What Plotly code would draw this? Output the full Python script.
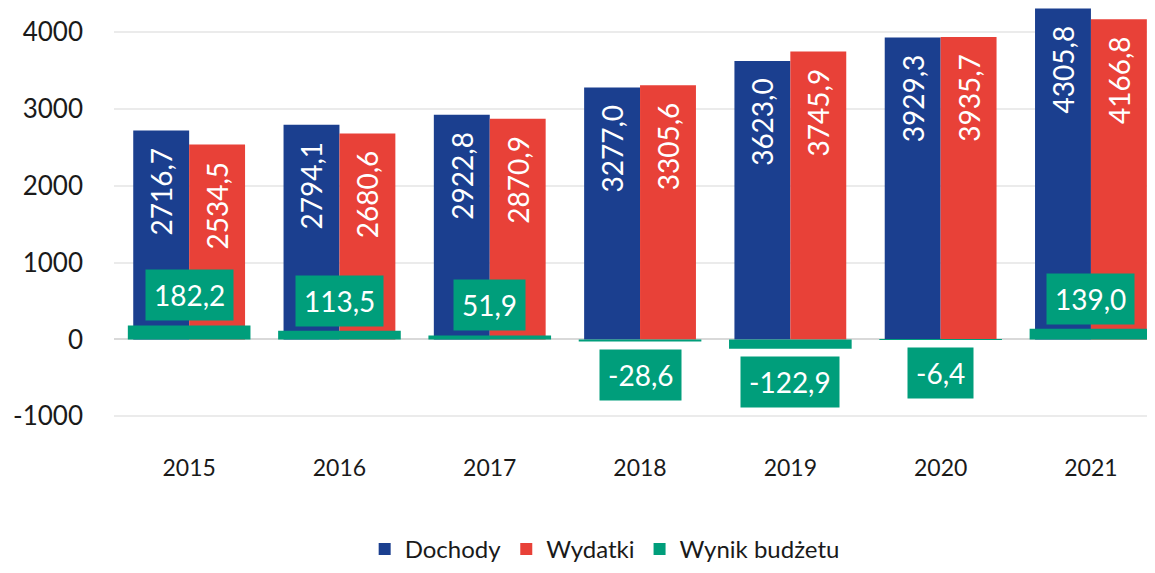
import plotly.graph_objects as go

# --- data ---
years = ['2015', '2016', '2017', '2018', '2019', '2020', '2021']
dochody = [2716.7, 2794.1, 2922.8, 3277.0, 3623.0, 3929.3, 4305.8]
wydatki = [2534.5, 2680.6, 2870.9, 3305.6, 3745.9, 3935.7, 4166.8]
wynik = [182.2, 113.5, 51.9, -28.6, -122.9, -6.4, 139.0]
y_ticks = [-1000, 0, 1000, 2000, 3000, 4000]

BLUE = '#1B3F8F'
RED = '#E84138'
GREEN = '#009E7B'
FONT = 'Lato'


def pl(v):
    return f'{v:.1f}'.replace('.', ',')


fig = go.Figure()

BW = 0.372
for name, vals, color, off in [('Dochody', dochody, BLUE, -BW), ('Wydatki', wydatki, RED, 0.0)]:
    fig.add_trace(go.Bar(
        x=years, y=vals, name=name,
        marker=dict(color=color, line=dict(width=0)),
        width=BW, offset=off,
        text=[pl(v) + '\u00a0\u00a0' for v in vals],
        textposition='inside', insidetextanchor='end',
        textangle=-90, constraintext='none',
        textfont=dict(family=FONT, size=28, color='white'),
        cliponaxis=False,
    ))

fig.add_trace(go.Bar(
    x=years, y=wynik, name='Wynik budżetu',
    marker=dict(color=GREEN, line=dict(width=0)),
    width=0.816, offset=-0.408,
))

#--- green labels as boxed annotations (x by category index)
annos = []
for i, v in enumerate(wynik):
    annos.append(dict(
        x=i, y=v, xref='x', yref='y',
        text=pl(v), showarrow=False,
        yanchor='bottom' if v >= 0 else 'top',
        yshift=4 if v >= 0 else -7,
        bgcolor=GREEN, borderpad=8,
        font=dict(family=FONT, size=28, color='white'),
    ))

# page body keeps its default 8px margin, so the figure is 16px smaller
fig.update_layout(
    width=1139, height=557,
    margin=dict(l=106, r=0, t=0, b=121, autoexpand=False),
    barmode='overlay',
    plot_bgcolor='white', paper_bgcolor='white',
    annotations=annos,
    showlegend=True,
    legend=dict(orientation='h', x=0.475, xanchor='center', y=-0.242, yanchor='middle',
                font=dict(family=FONT, size=24, color='#1a1a1a'),
                itemclick=False, traceorder='normal', itemwidth=30),
    font=dict(family=FONT),
)
fig.update_xaxes(range=[-0.5, 6.373], showgrid=False, zeroline=False, showline=False,
                 tickfont=dict(family=FONT, size=23, color='#1a1a1a'), ticks='',
                 ticklabelstandoff=8, automargin=False)
fig.update_yaxes(range=[-1361, 4312], tickvals=y_ticks, ticktext=[str(t) for t in y_ticks],
                 showgrid=True, gridcolor='#EBEBEB', gridwidth=2,
                 zeroline=True, zerolinecolor='#D9D9D9', zerolinewidth=2,
                 tickfont=dict(family=FONT, size=26, color='#1a1a1a'),
                 ticklabelstandoff=30, showline=False, automargin=False)

fig.write_html('out.html')
